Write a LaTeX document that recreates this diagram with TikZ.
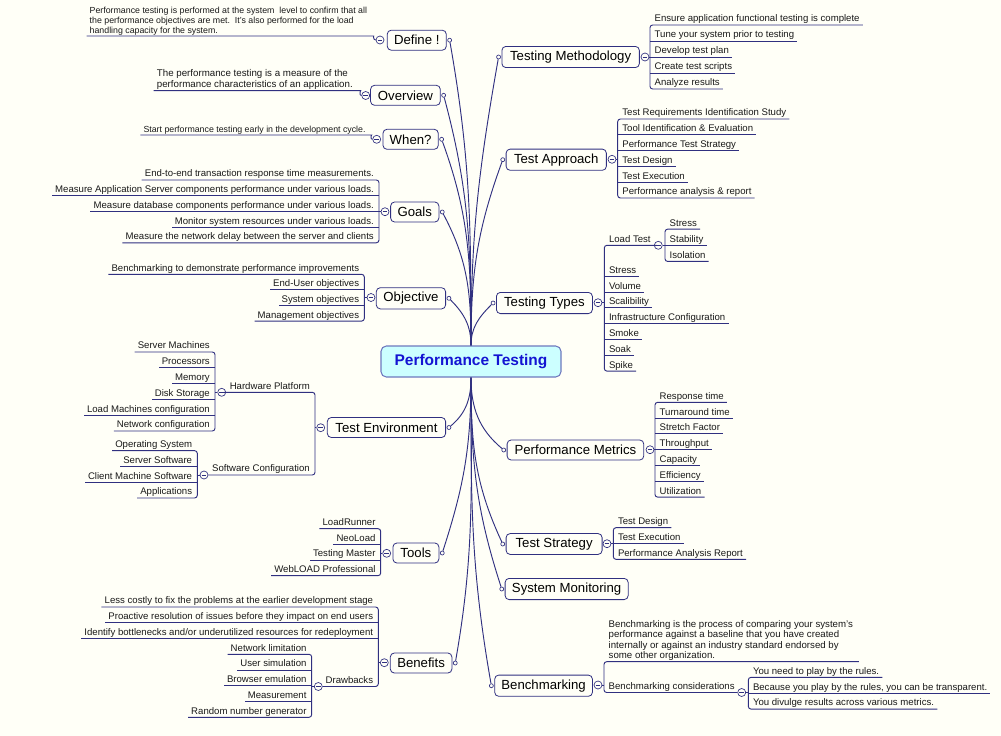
\documentclass[tikz,border=0pt]{standalone}
\usepackage{fontspec}
\setmainfont{Liberation Sans}

\definecolor{bgcol}{RGB}{255,255,247}
\definecolor{linecol}{RGB}{48,48,128}
\definecolor{rootfill}{RGB}{204,255,255}
\definecolor{rootline}{RGB}{110,120,190}
\definecolor{roottext}{RGB}{20,20,210}
\definecolor{leaftext}{RGB}{25,25,25}

\newcommand{\leaffont}{\fontsize{7.2pt}{8.6pt}\selectfont}
\newcommand{\smallnotefont}{\fontsize{6.6pt}{7.4pt}\selectfont}
\newcommand{\notefont}{\fontsize{7.3pt}{8.2pt}\selectfont}
\newcommand{\descfont}{\fontsize{7.25pt}{7.9pt}\selectfont}
\newcommand{\topicfont}{\fontsize{9.9pt}{11pt}\selectfont}
\newcommand{\rootfont}{\fontsize{11.6pt}{13pt}\selectfont\bfseries}

\begin{document}
\begin{tikzpicture}[x=0.75pt,y=-0.75pt]
    \tikzstyle{rootbox}=[draw=rootline, fill=rootfill, rounded corners=4pt, line width=0.8pt,
                         minimum width=135pt, minimum height=23.25pt, font=\rootfont, text=roottext]
    \tikzstyle{topic}=[draw=linecol, fill=bgcol, rounded corners=3pt, line width=0.6pt,
                       inner xsep=2pt, minimum height=15pt, font=\topicfont]
    \tikzstyle{leaf}=[inner xsep=2.2pt, inner ysep=0.6pt, text height=5.4pt, text depth=1.5pt,
                      font=\leaffont, text=leaftext]
    \tikzstyle{notetext}=[inner xsep=2.2pt, inner ysep=0.6pt, align=left, text=leaftext]
    \tikzstyle{fold}=[circle, draw=linecol, fill=bgcol, inner sep=0pt, minimum size=6pt, line width=0.5pt,
                      path picture={\draw[linecol, line width=0.5pt]
                        ([xshift=-1.7pt]path picture bounding box.center) -- ([xshift=1.7pt]path picture bounding box.center);}]
    \tikzstyle{hookdot}=[circle, draw=linecol, fill=bgcol, inner sep=0pt, minimum size=3pt, line width=0.5pt]
    \tikzstyle{branch}=[draw=linecol, line width=0.7pt, rounded corners=2pt]
    \tikzstyle{spoke}=[draw=linecol, line width=0.7pt]

    \fill[bgcol] (0,0) rectangle (1001,736);
    \useasboundingbox (0,0) rectangle (1001,736);

    % centre
    \node[rootbox] (root) at (471,361.5) {Performance Testing};

    % topics on the right
    \node[topic, anchor=west, minimum width=103.1pt] (meth)  at (501.5,57)    {Testing Methodology};
    \node[topic, anchor=west, minimum width=75.2pt]  (appr)  at (505.7,159.7) {Test Approach};
    \node[topic, anchor=west, minimum width=72pt]    (types) at (496,303)     {Testing Types};
    \node[topic, anchor=west, minimum width=102.5pt] (metr)  at (506.7,450)   {Performance Metrics};
    \node[topic, anchor=west, minimum width=72pt]    (strat) at (505.7,544)   {Test Strategy};
    \node[topic, anchor=west, minimum width=92.3pt]  (mon)   at (504.7,589)   {System Monitoring};
    \node[topic, anchor=west, minimum width=73.3pt]  (bench) at (494.3,685.7) {Benchmarking};

    % topics on the left
    \node[topic, anchor=east, minimum width=44.3pt] (def)  at (446.7,40.2)  {Define !};
    \node[topic, anchor=east, minimum width=52.3pt] (ovw)  at (440.7,95.3)  {Overview};
    \node[topic, anchor=east, minimum width=41.5pt] (when) at (438.7,139.3) {When?};
    \node[topic, anchor=east, minimum width=36.2pt] (goal) at (439.3,212)   {Goals};
    \node[topic, anchor=east, minimum width=52pt]   (obj)  at (446,298.3)   {Objective};
    \node[topic, anchor=east, minimum width=88.7pt] (env)  at (446,427.5)   {Test Environment};
    \node[topic, anchor=east, minimum width=34.5pt] (tool) at (439.3,553)   {Tools};
    \node[topic, anchor=east, minimum width=46.2pt] (bnf)  at (452.3,663)   {Benefits};

    % small hooks where the spokes come in
    \foreach \n in {meth,appr,types,metr,strat,mon,bench}
        \node[hookdot] (\n-d) at ([xshift=-2.2pt]\n.west) {};
    \foreach \n in {def,ovw,when,goal,obj,env,tool,bnf}
        \node[hookdot] (\n-d) at ([xshift=2.2pt]\n.east) {};

    % spokes
    \draw[spoke] (root.north) to[out=90,in=-80]  (def-d);
    \draw[spoke] (root.north) to[out=90,in=-75]  (ovw-d);
    \draw[spoke] (root.north) to[out=90,in=-70]  (when-d);
    \draw[spoke] (root.north) to[out=90,in=-62]  (goal-d);
    \draw[spoke] (root.north) to[out=90,in=-45]  (obj-d);
    \draw[spoke] (root.north) to[out=90,in=-100] (meth-d);
    \draw[spoke] (root.north) to[out=90,in=-110] (appr-d);
    \draw[spoke] (root.north) to[out=90,in=-135] (types-d);
    \draw[spoke] (root.south) to[out=-90,in=140] (metr-d);
    \draw[spoke] (root.south) to[out=-90,in=115] (strat-d);
    \draw[spoke] (root.south) to[out=-90,in=108] (mon-d);
    \draw[spoke] (root.south) to[out=-90,in=100] (bench-d);
    \draw[spoke] (root.south) to[out=-90,in=40]  (env-d);
    \draw[spoke] (root.south) to[out=-90,in=72]  (tool-d);
    \draw[spoke] (root.south) to[out=-90,in=80]  (bnf-d);

    % fold buttons and where the brackets meet them
    \node[fold] (meth-f)  at (645,57) {};      \coordinate (meth-j)  at (650,57);
    \node[fold] (appr-f)  at (612,159.3) {};   \coordinate (appr-j)  at (617.7,159.3);
    \node[fold] (types-f) at (598,302.7) {};   \coordinate (types-j) at (604.3,302.7);
    \node[fold] (metr-f)  at (650,449.7) {};   \coordinate (metr-j)  at (655,449.7);
    \node[fold] (strat-f) at (607,543.7) {};   \coordinate (strat-j) at (613.3,543.7);
    \node[fold] (bench-f) at (598,685) {};     \coordinate (bench-j) at (604,685);
    \node[fold] (def-f)   at (380,40) {};      \coordinate (def-j)   at (371,36);
    \node[fold] (ovw-f)   at (365.7,95.5) {};  \coordinate (ovw-j)   at (358,90.7);
    \node[fold] (when-f)  at (376.7,139.3) {}; \coordinate (when-j)  at (369,135);
    \node[fold] (goal-f)  at (385,211.7) {};   \coordinate (goal-j)  at (379,211.7);
    \node[fold] (obj-f)   at (371,297.5) {};   \coordinate (obj-j)   at (364.3,297.5);
    \node[fold] (env-f)   at (320.7,427.7) {}; \coordinate (env-j)   at (315,427.7);
    \node[fold] (tool-f)  at (386.7,553.3) {}; \coordinate (tool-j)  at (380.7,553.3);
    \node[fold] (bnf-f)   at (384.3,662.7) {}; \coordinate (bnf-j)   at (378.3,662.7);

    % Testing Methodology
    \foreach \t [count=\i] in {Ensure application functional testing is complete, Tune your system prior to testing,
                               Develop test plan, Create test scripts, Analyze results}
        \node[leaf, anchor=south west] (meth\i) at (651.5,9+16*\i) {\t};
    \draw[branch] (meth-f) -- (meth-j);
    \draw[branch] (meth1.south east) -| (meth-j |- meth5.south) -- (meth5.south east);
    \foreach \i in {2,3,4}
        \draw[branch] (meth-j |- meth\i.south) -- (meth\i.south east);

    % Test Approach
    \foreach \t [count=\i] in {Test Requirements Identification Study, Tool Identification \& Evaluation,
                               Performance Test Strategy, Test Design, Test Execution, Performance analysis \& report}
        \node[leaf, anchor=south west] (appr\i) at (619.2,103.2+15.8*\i) {\t};
    \draw[branch] (appr-f) -- (appr-j);
    \draw[branch] (appr1.south east) -| (appr-j |- appr6.south) -- (appr6.south east);
    \foreach \i in {2,...,5}
        \draw[branch] (appr-j |- appr\i.south) -- (appr\i.south east);

    % Testing Types
    \node[leaf, anchor=south west] (load) at (605.8,245.3) {Load Test};
    \node[fold] (load-f) at (658.3,245.3) {};  \coordinate (load-j) at (665,245.3);
    \foreach \t [count=\i] in {Stress, Volume, Scalibility, Infrastructure Configuration, Smoke, Soak, Spike}
        \node[leaf, anchor=south west] (types\i) at (605.8,260.5+15.8*\i) {\t};
    \draw[branch] (types-f) -- (types-j);
    \draw[branch] (load-f) -- (load.south east) -| (types-j |- types7.south) -- (types7.south east);
    \foreach \i in {1,...,6}
        \draw[branch] (types-j |- types\i.south) -- (types\i.south east);
    \foreach \t [count=\i] in {Stress, Stability, Isolation}
        \node[leaf, anchor=south west] (load\i) at (666.5,213+16.15*\i) {\t};
    \draw[branch] (load-f) -- (load-j);
    \draw[branch] (load1.south east) -| (load-j |- load3.south) -- (load3.south east);
    \draw[branch] (load-j |- load2.south) -- (load2.south east);

    % Performance Metrics
    \foreach \t [count=\i] in {Response time, Turnaround time, Stretch Factor, Throughput, Capacity, Efficiency, Utilization}
        \node[leaf, anchor=south west] (metr\i) at (656.5,386.5+15.8*\i) {\t};
    \draw[branch] (metr-f) -- (metr-j);
    \draw[branch] (metr1.south east) -| (metr-j |- metr7.south) -- (metr7.south east);
    \foreach \i in {2,...,6}
        \draw[branch] (metr-j |- metr\i.south) -- (metr\i.south east);

    % Test Strategy
    \foreach \t [count=\i] in {Test Design, Test Execution, Performance Analysis Report}
        \node[leaf, anchor=south west] (strat\i) at (614.8,511.9+15.8*\i) {\t};
    \draw[branch] (strat-f) -- (strat-j);
    \draw[branch] (strat1.south east) -| (strat-j |- strat3.south) -- (strat3.south east);
    \draw[branch] (strat-j |- strat2.south) -- (strat2.south east);

    % Benchmarking
    \node[notetext, anchor=south west, font=\descfont] (bd) at (605.5,661.7)
        {Benchmarking is the process of comparing your system's\\performance against a baseline that you have created\\internally or against an industry standard endorsed by\\some other organization.};
    \coordinate (bd-e) at (857.7,661.7);
    \node[leaf, anchor=south west] (cons) at (605.5,692.5) {Benchmarking considerations};
    \node[fold] (cons-f) at (741.7,692.5) {};  \coordinate (cons-j) at (748.3,692.5);
    \draw[branch] (bench-f) -- (bench-j);
    \draw[branch] (bd-e) -- (bd.south east) -| (bench-j |- cons.south) -- (cons-f);
    \foreach \t [count=\i] in {You need to play by the rules., {Because you play by the rules, you can be transparent.},
                               You divulge results across various metrics.}
        \node[leaf, anchor=south west] (cons\i) at (749.8,661.5+15.85*\i) {\t};
    \draw[branch] (cons-f) -- (cons-j);
    \draw[branch] (cons1.south east) -| (cons-j |- cons3.south) -- (cons3.south east);
    \draw[branch] (cons-j |- cons2.south) -- (cons2.south east);

    % Define, Overview, When
    \node[notetext, anchor=south west, font=\smallnotefont] (dn) at (86.5,36)
        {Performance testing is performed at the system\ \ level to confirm that all\\the performance objectives are met.\ \ It's also performed for the load\\handling capacity for the system.};
    \draw[branch] (dn.south west) -- (def-j) to[out=0,in=180] (def-f);
    \node[notetext, anchor=south west, font=\notefont] (on) at (153.7,90.7)
        {The performance testing is a measure of the\\performance characteristics of an application.};
    \draw[branch] (on.south west) -- (ovw-j) to[out=0,in=180] (ovw-f);
    \node[notetext, anchor=south west, font=\smallnotefont] (wn) at (140.3,135)
        {Start performance testing early in the development cycle.};
    \draw[branch] (wn.south west) -- (when-j) to[out=0,in=180] (when-f);

    % Goals
    \foreach \t [count=\i] in {End-to-end transaction response time measurements.,
                               Measure Application Server components performance under various loads.,
                               Measure database components performance under various loads.,
                               Monitor system resources under various loads.,
                               Measure the network delay between the server and clients}
        \node[leaf, anchor=south east] (goal\i) at (377,164.3+15.7*\i) {\t};
    \draw[branch] (goal-f) -- (goal-j);
    \draw[branch] (goal1.south west) -| (goal-j |- goal5.south) -- (goal5.south west);
    \foreach \i in {2,3,4}
        \draw[branch] (goal-j |- goal\i.south) -- (goal\i.south west);

    % Objective
    \foreach \t [count=\i] in {Benchmarking to demonstrate performance improvements, End-User objectives,
                               System objectives, Management objectives}
        \node[leaf, anchor=south east] (obj\i) at (362.3,258.7+15.6*\i) {\t};
    \draw[branch] (obj-f) -- (obj-j);
    \draw[branch] (obj1.south west) -| (obj-j |- obj4.south) -- (obj4.south west);
    \foreach \i in {2,3}
        \draw[branch] (obj-j |- obj\i.south) -- (obj\i.south west);

    % Test Environment
    \node[leaf, anchor=south east] (hw) at (313,392.3) {Hardware Platform};
    \node[leaf, anchor=south east] (sw) at (313,475) {Software Configuration};
    \node[fold] (hw-f) at (221.7,392.3) {};  \coordinate (hw-j) at (215,392.3);
    \node[fold] (sw-f) at (204,475) {};      \coordinate (sw-j) at (197.3,475);
    \draw[branch] (env-f) -- (env-j);
    \draw[branch] (hw-f) -- (hw.south west) -| (env-j |- sw.south) -- (sw-f);
    \foreach \t [count=\i] in {Server Machines, Processors, Memory, Disk Storage, Load Machines configuration,
                               Network configuration}
        \node[leaf, anchor=south east] (hw\i) at (213,336.2+15.8*\i) {\t};
    \draw[branch] (hw-f) -- (hw-j);
    \draw[branch] (hw1.south west) -| (hw-j |- hw6.south) -- (hw6.south west);
    \foreach \i in {2,...,5}
        \draw[branch] (hw-j |- hw\i.south) -- (hw\i.south west);
    \foreach \t [count=\i] in {Operating System, Server Software, Client Machine Software, Applications}
        \node[leaf, anchor=south east] (sw\i) at (195.3,434.9+15.77*\i) {\t};
    \draw[branch] (sw-f) -- (sw-j);
    \draw[branch] (sw1.south west) -| (sw-j |- sw4.south) -- (sw4.south west);
    \foreach \i in {2,3}
        \draw[branch] (sw-j |- sw\i.south) -- (sw\i.south west);

    % Tools
    \foreach \t [count=\i] in {LoadRunner, NeoLoad, Testing Master, WebLOAD Professional}
        \node[leaf, anchor=south east] (tool\i) at (378.7,513+15.67*\i) {\t};
    \draw[branch] (tool-f) -- (tool-j);
    \draw[branch] (tool1.south west) -| (tool-j |- tool4.south) -- (tool4.south west);
    \foreach \i in {2,3}
        \draw[branch] (tool-j |- tool\i.south) -- (tool\i.south west);

    % Benefits
    \foreach \t [count=\i] in {Less costly to fix the problems at the earlier development stage,
                               Proactive resolution of issues before they impact on end users,
                               Identify bottlenecks and/or underutilized resources for redeployment}
        \node[leaf, anchor=south east] (bnf\i) at (376.3,591.3+15.7*\i) {\t};
    \node[leaf, anchor=south east] (drw) at (376.3,686.5) {Drawbacks};
    \node[fold] (drw-f) at (318.3,686.5) {};  \coordinate (drw-j) at (311.7,686.5);
    \draw[branch] (bnf-f) -- (bnf-j);
    \draw[branch] (bnf1.south west) -| (bnf-j |- drw.south) -- (drw-f);
    \foreach \i in {2,3}
        \draw[branch] (bnf-j |- bnf\i.south) -- (bnf\i.south west);
    \foreach \t [count=\i] in {Network limitation, User simulation, Browser emulation, Measurement,
                               Random number generator}
        \node[leaf, anchor=south east] (drw\i) at (309.7,638.55+15.75*\i) {\t};
    \draw[branch] (drw-f) -- (drw-j);
    \draw[branch] (drw1.south west) -| (drw-j |- drw5.south) -- (drw5.south west);
    \foreach \i in {2,3,4}
        \draw[branch] (drw-j |- drw\i.south) -- (drw\i.south west);

\end{tikzpicture}
\end{document}
